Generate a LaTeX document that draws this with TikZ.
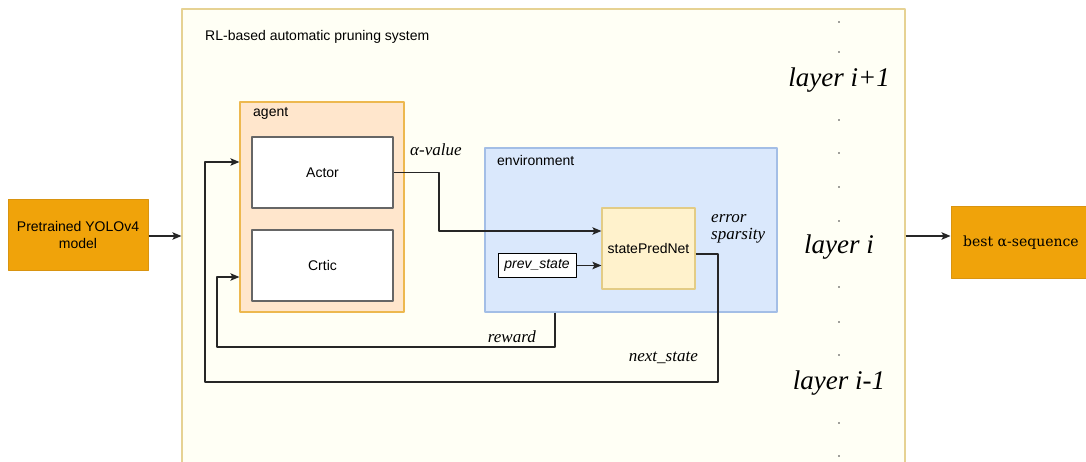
\documentclass[tikz,border=0pt]{standalone}
\usepackage{fontspec}
\setmainfont{Liberation Sans}
\newfontfamily\labelfont{Liberation Serif}
\newfontfamily\seqfont{DejaVu Serif}
\usetikzlibrary{arrows.meta,calc}
\tikzset{>={Stealth[length=9pt,width=7.5pt,inset=2pt]}}
\definecolor{sysfill}{HTML}{FFFFF5}
\definecolor{sysline}{HTML}{E6D293}
\definecolor{agentfill}{HTML}{FFE6CC}
\definecolor{agentline}{HTML}{EDB84F}
\definecolor{envfill}{HTML}{DAE8FC}
\definecolor{envline}{HTML}{A3BEE6}
\definecolor{netfill}{HTML}{FFF2CC}
\definecolor{netline}{HTML}{E3CC85}
\definecolor{modelfill}{HTML}{F0A30A}
\definecolor{modelline}{HTML}{D99410}

\begin{document}
\begin{tikzpicture}[x=1pt, y=-1pt, line join = round,
    sans/.style = {font=\fontsize{14}{16.5}\selectfont},
    ital/.style = {font=\labelfont\itshape\fontsize{17}{17}\selectfont, inner sep=0pt},
    layerlbl/.style = {font=\labelfont\itshape\fontsize{27}{27}\selectfont, inner sep=0pt},
    box/.style = {draw, rectangle, inner sep=0pt},
    wire/.style = {draw=black!85, line width=1.1pt}]
    \useasboundingbox (0,0) rectangle (1086,462);
    \fill[white] (0,0) rectangle (1086,462);

    % containers
    \node[box, fill=sysfill, draw=sysline, line width=1.2pt, minimum width=723pt, minimum height=466pt] (sys) at (543.5,242) {};
    \node[box, fill=agentfill, draw=agentline, line width=1.2pt, minimum width=164pt, minimum height=210pt] (agent) at (322,207) {};
    \node[box, fill=envfill, draw=envline, line width=1.2pt, minimum width=292pt, minimum height=164pt] (env) at (631,230) {};

    % blocks
    \node[box, sans, fill=white, draw=black!60, line width=1.5pt, minimum width=141pt, minimum height=71pt] (actor) at (322.5,172.5) {Actor};
    \node[box, sans, fill=white, draw=black!60, line width=1.5pt, minimum width=141pt, minimum height=71pt] (critic) at (322.5,265.5) {Crtic};
    \node[box, sans, fill=netfill, draw=netline, line width=1.2pt, minimum width=93pt, minimum height=81pt] (spn) at (648.5,248.5) {statePredNet};
    \node[box, sans, font=\itshape\fontsize{14}{16.5}\selectfont, fill=white, draw=black, line width=1pt, minimum width=78pt, minimum height=23pt] (prev) at (537,265.5) {prev\_state};
    \node[box, sans, align=center, fill=modelfill, draw=modelline, line width=1pt, minimum width=140pt, minimum height=70pt] (yolo) at (78,235) {Pretrained YOLOv4\\model};
    \node[box, font=\seqfont\fontsize{14}{16}\selectfont, fill=modelfill, draw=modelline, line width=1pt, minimum width=140pt, minimum height=71pt] (best) at (1021,242.5) {best α-sequence};

    % titles
    \node[sans, anchor=west, inner sep=0pt] (systitle) at (205,37) {RL-based automatic pruning system};
    \node[sans, anchor=west, inner sep=0pt] (agenttitle) at (253,113) {agent};
    \node[sans, anchor=west, inner sep=0pt] (envtitle) at (497,160) {environment};

    % connector labels
    \node[ital, anchor=west] (alpha) at (410,150) {α-value};
    \node[ital, anchor=west, align=left] (errsp) at (711,229) {error\\sparsity};
    \node[ital, anchor=east] (rew) at (536,337) {reward};
    \node[ital, anchor=east] (nxt) at (698,358) {next\_state};

    % connectors
    \draw[wire, ->] (yolo.east |- 0,236) -- (sys.west |- 0,236);
    \draw[wire, ->] (sys.east |- 0,236) -- (best.west |- 0,236);
    \draw[wire, ->] (actor.east) -- (439,172.5) -- (439,231) -- (spn.west |- 0,231);
    \draw[wire, ->] (prev.east) -- (prev.east -| spn.west);
    \draw[wire, ->] (spn.east |- 0,254) -- (718,254) -- (718,382) -- (205,382) -- (205,162) -- (agent.west |- 0,162);
    \draw[wire, ->] (555,0 |- env.south) -- (555,347) -- (217,347) -- (217,277) -- (agent.west |- 0,277);

    % layer column
    \foreach \y in {22,52,120,153,187,221,287,322,355,423,456}
        \fill[black!75] (839,\y) circle (0.9pt);
    \node[layerlbl] (lup) at (839,80) {layer i+1};
    \node[layerlbl] (lmid) at (839,247) {layer i};
    \node[layerlbl] (ldown) at (839,383) {layer i-1};

\end{tikzpicture}
\end{document}
